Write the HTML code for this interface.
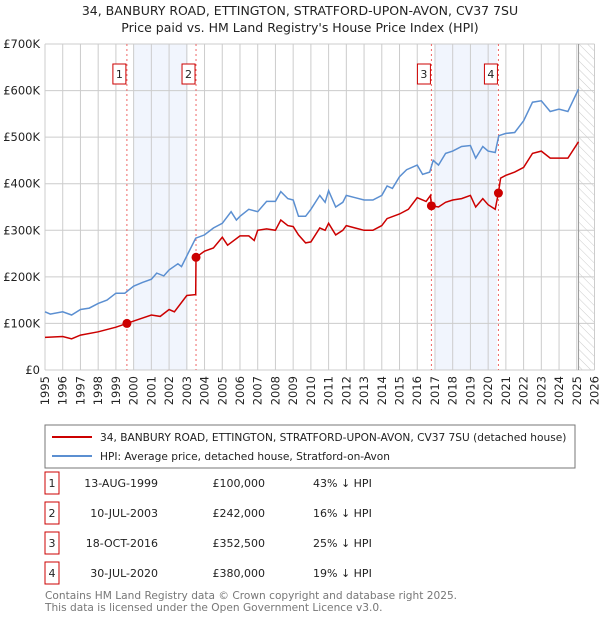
<!DOCTYPE html>
<html><head><meta charset="utf-8"><style>
body{margin:0;background:#fff;width:600px;height:620px;overflow:hidden;font-family:"Liberation Sans","DejaVu Sans",sans-serif}
svg text{font-family:"DejaVu Sans","Liberation Sans",sans-serif}
</style></head><body>
<svg id="c" width="600" height="620" xmlns="http://www.w3.org/2000/svg">
<defs><pattern id="hatch" width="6" height="6" patternUnits="userSpaceOnUse" patternTransform="rotate(-45)"><line x1="0" y1="0" x2="0" y2="6" stroke="#ccc" stroke-width="1"/></pattern></defs>
<text x="300" y="15" text-anchor="middle" font-size="12.5" fill="#222">34, BANBURY ROAD, ETTINGTON, STRATFORD-UPON-AVON, CV37 7SU</text>
<text x="300" y="32" text-anchor="middle" font-size="12.5" fill="#222">Price paid vs. HM Land Registry's House Price Index (HPI)</text>
<g id="plot"></g>
<rect x="45" y="425" width="530" height="43" fill="#fff" stroke="#777"/>
<line x1="52" y1="437" x2="92" y2="437" stroke="#cc0000" stroke-width="2"/>
<text x="100" y="441" font-size="10.6" fill="#222">34, BANBURY ROAD, ETTINGTON, STRATFORD-UPON-AVON, CV37 7SU (detached house)</text>
<line x1="52" y1="456" x2="92" y2="456" stroke="#5b8fd1" stroke-width="2"/>
<text x="100" y="460" font-size="10.6" fill="#222">HPI: Average price, detached house, Stratford-on-Avon</text>
<g id="tbl"></g>
<text x="45" y="599" font-size="10.6" fill="#777">Contains HM Land Registry data © Crown copyright and database right 2025.</text>
<text x="45" y="611" font-size="10.6" fill="#777">This data is licensed under the Open Government Licence v3.0.</text>
</svg>
<script>
const yearTicks=[1995,1996,1997,1998,1999,2000,2001,2002,2003,2004,2005,2006,2007,2008,2009,2010,2011,2012,2013,2014,2015,2016,2017,2018,2019,2020,2021,2022,2023,2024,2025,2026];
const valueTicks=[0,100,200,300,400,500,600,700];
const valueTickLabels=["£0","£100K","£200K","£300K","£400K","£500K","£600K","£700K"];
const hpiT=[1995,1995.3,1996,1996.5,1997,1997.5,1998,1998.5,1999,1999.5,2000,2000.5,2001,2001.3,2001.7,2002,2002.5,2002.7,2003,2003.5,2004,2004.5,2005,2005.5,2005.8,2006,2006.5,2007,2007.5,2008,2008.3,2008.7,2009,2009.3,2009.7,2010,2010.5,2010.8,2011,2011.4,2011.8,2012,2012.5,2013,2013.5,2014,2014.3,2014.6,2015,2015.4,2016,2016.3,2016.7,2016.9,2017.2,2017.6,2018,2018.5,2019,2019.3,2019.7,2020,2020.4,2020.6,2021,2021.5,2022,2022.5,2023,2023.5,2024,2024.5,2025.1];
const hpiV=[125,120,125,118,130,133,143,150,165,165,180,188,195,208,202,215,228,222,245,283,290,305,315,340,322,330,345,340,362,362,383,368,365,330,330,345,375,360,385,350,360,375,370,365,365,375,395,390,415,430,440,420,425,450,440,465,470,480,482,455,480,470,467,503,508,510,535,575,578,555,560,555,603];
const ppT=[1995,1996,1996.5,1997,1998,1999,1999.62,2000,2001,2001.5,2002,2002.3,2003,2003.5,2003.52,2004,2004.5,2005,2005.3,2006,2006.5,2006.8,2007,2007.5,2008,2008.3,2008.7,2009,2009.3,2009.7,2010,2010.5,2010.8,2011,2011.4,2011.8,2012,2012.5,2013,2013.5,2014,2014.3,2015,2015.5,2016,2016.5,2016.75,2016.8,2017.2,2017.6,2018,2018.5,2019,2019.3,2019.7,2020,2020.4,2020.58,2020.7,2021,2021.5,2022,2022.5,2023,2023.5,2024,2024.5,2025.1];
const ppV=[70,72,67,75,82,92,100,105,118,115,130,125,160,162,242,255,262,285,268,288,288,278,300,303,300,322,310,308,290,273,275,305,300,315,290,300,310,305,300,300,310,325,335,345,370,362,375,352.5,350,360,365,368,375,350,368,355,345,380,412,418,425,435,465,470,455,455,455,490];
const saleT=[1999.62,2003.52,2016.8,2020.58];
const saleV=[100,242,352.5,380];
const saleLabels=["1","2","3","4"];
const saleDates=["13-AUG-1999","10-JUL-2003","18-OCT-2016","30-JUL-2020"];
const salePrices=["£100,000","£242,000","£352,500","£380,000"];
const saleDiffs=["43% ↓ HPI","16% ↓ HPI","25% ↓ HPI","19% ↓ HPI"];
const shadeStart=[2000,2017];const shadeEnd=[2003.05,2020.5];

const NS="http://www.w3.org/2000/svg";
const X=t=>45+(t-1995)*(549.5/31);
const Y=v=>370-v*(326/700);
function mk(tag,at,parent){const e=document.createElementNS(NS,tag);for(const k in at)e.setAttribute(k,at[k]);parent.appendChild(e);return e;}
const P=document.getElementById('plot');
for(let i=0;i<shadeStart.length;i++){const r=mk('rect',{x:X(shadeStart[i]),y:Y(700),width:X(shadeEnd[i])-X(shadeStart[i]),height:Y(0)-Y(700),fill:'#eef3fc',opacity:0.8},P);

}
const hz=mk('rect',{x:X(2025.1),y:Y(700),width:X(2026)-X(2025.1),height:Y(0)-Y(700),fill:'url(#hatch)'},P);


yearTicks.forEach(t=>{const l=mk('line',{x1:X(t),x2:X(t),y1:Y(700),y2:Y(0),stroke:'#ccc','stroke-width':1},P);


const tx=mk('text',{x:0,y:0,transform:`translate(${X(t)+4},376) rotate(-90)`,'text-anchor':'end','font-size':11.5,fill:'#222'},P);tx.textContent=t;

});
valueTicks.forEach((v,i)=>{const l=mk('line',{x1:45,x2:X(2026),y1:Y(v),y2:Y(v),stroke:'#ccc','stroke-width':1},P);


const tx=mk('text',{x:40,y:Y(v)+4,'text-anchor':'end','font-size':11.5,fill:'#222'},P);tx.textContent=valueTickLabels[i];

});
const vl=mk('line',{x1:X(2025.1),x2:X(2025.1),y1:Y(700),y2:Y(0),stroke:'#999','stroke-width':1},P);


saleT.forEach((t,i)=>{const l=mk('line',{x1:X(t),x2:X(t),y1:Y(700),y2:Y(0),stroke:'#ee6666','stroke-width':1,'stroke-dasharray':'2,3'},P);

});
function path(T,V){return T.map((t,i)=>(i?'L':'M')+X(t).toFixed(1)+','+Y(V[i]).toFixed(1)).join('');}
const hp=mk('path',{d:path(hpiT,hpiV),fill:'none',stroke:'#5b8fd1','stroke-width':1.5},P);


const pp=mk('path',{d:path(ppT,ppV),fill:'none',stroke:'#cc0000','stroke-width':1.5},P);


saleT.forEach((t,i)=>{const c=mk('circle',{cx:X(t),cy:Y(saleV[i]),r:4.5,fill:'#cc0000'},P);


const b=mk('rect',{x:X(t)-14,y:64,width:13,height:20,fill:'#fff',stroke:'#cc0000'},P);


const tx=mk('text',{x:X(t)-7.5,y:78,'text-anchor':'middle','font-size':11,fill:'#222'},P);tx.textContent=saleLabels[i];

});
const TB=document.getElementById('tbl');
saleLabels.forEach((s,i)=>{const y=483+i*30;
const b=mk('rect',{x:45,y:y-11,width:14,height:22,fill:'#fff',stroke:'#cc0000'},TB);


const cells=[[52,s,'middle'],[158,saleDates[i],'end'],[265,salePrices[i],'end'],[313,saleDiffs[i],'start']];
cells.forEach(c=>{const tx=mk('text',{x:c[0],y:y+4,'text-anchor':c[2],'font-size':11,fill:'#222'},TB);tx.textContent=c[1];

});});
</script>
</body></html>
